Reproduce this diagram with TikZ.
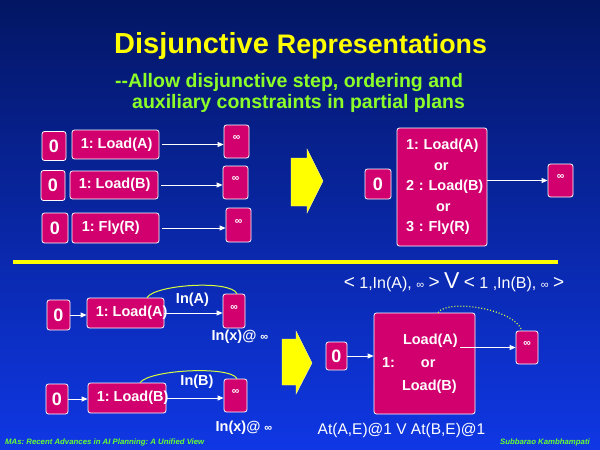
\documentclass[tikz,border=0pt]{standalone}
\usepackage{fontspec}
\setmainfont{Liberation Sans}
\usetikzlibrary{arrows.meta}
\definecolor{mag}{RGB}{210,0,110}
\definecolor{bgtop}{RGB}{3,22,100}
\definecolor{bgbot}{RGB}{15,55,228}
\definecolor{ttl}{RGB}{255,255,0}
\definecolor{subc}{RGB}{140,255,40}
\definecolor{footc}{RGB}{102,255,51}
\definecolor{crv}{RGB}{215,255,60}
\definecolor{blkedge}{RGB}{255,255,170}
\newcommand\fsz[1]{\fontsize{#1}{#1}\selectfont}
\begin{document}
\frenchspacing
\begin{tikzpicture}[x=1pt,y=-1pt,
  bx/.style={draw=white, line width=0.8pt, fill=mag, rounded corners=2.5pt, inner sep=0pt, text=white, font=\bfseries\fsz{14.5}},
  zero/.style={bx, font=\bfseries\fsz{18}},
  inf/.style={bx, font=\bfseries\fsz{10.5}, text height=5pt, text depth=7pt},
  arr/.style={white, line width=0.8pt, -{Triangle[length=6pt,width=5pt]}},
  lbl/.style={text=white, font=\bfseries\fsz{14.5}, inner sep=0pt},
  st/.style={text=white, font=\bfseries\fsz{14.5}, inner sep=0pt, anchor=west},
  blk/.style={fill=ttl, draw=blkedge, line width=0.4pt},
  curve/.style={crv, line width=1pt},
  foot/.style={inner sep=0pt, text=footc, font=\bfseries\itshape\fsz{7.8}},
]
\shade[top color=bgtop, bottom color=bgbot] (0,0) rectangle (600,450);
\useasboundingbox (0,0) rectangle (600,450);

% title
\node[anchor=base west, inner sep=0pt, text=ttl, font=\bfseries] (title) at (114,53) {\fsz{29}Disjunctive \fsz{26.8}Representations};
\node[anchor=base west, inner sep=0pt, text=subc, font=\bfseries\fsz{19.5}] (sub1) at (115,87) {-{}-Allow disjunctive step, ordering and};
\node[anchor=base west, inner sep=0pt, text=subc, font=\bfseries\fsz{19.5}] (sub2) at (132,108) {auxiliary constraints in partial plans};

% top left rows
\node[zero, minimum width=24pt, minimum height=29pt] (z1) at (54,146) {0};
\node[bx, minimum width=87pt, minimum height=29pt, label={[st,xshift=9pt]west:{1: Load(A)}}] (s1) at (115.5,144.5) {};
\node[inf, minimum width=25pt, minimum height=33pt] (i1) at (236.5,141.5) {∞};
\draw[arr, shorten <=3pt] (s1.east) -- (s1.east -| i1.west);

\node[zero, minimum width=24pt, minimum height=30pt] (z2) at (53,185.5) {0};
\node[bx, minimum width=88pt, minimum height=28pt, label={[st,xshift=9pt]west:{1: Load(B)}}] (s2) at (114,185) {};
\node[inf, minimum width=25pt, minimum height=33pt] (i2) at (235.5,182.5) {∞};
\draw[arr, shorten <=3pt] (s2.east) -- (s2.east -| i2.west);

\node[zero, minimum width=26pt, minimum height=30pt] (z3) at (55,228) {0};
\node[bx, minimum width=87pt, minimum height=30pt, label={[st,xshift=10pt]west:{1: Fly(R)}}] (s3) at (115.5,228) {};
\node[inf, minimum width=25pt, minimum height=34pt] (i3) at (238.5,225) {∞};
\draw[arr, shorten <=3pt] (s3.east) -- (s3.east -| i3.west);

% block arrow 1
\filldraw[blk] (291,158) -- (307,158) -- (307,149) -- (323,181) -- (307,213) -- (307,206) -- (291,206) -- cycle;

% top right
\node[zero, minimum width=26pt, minimum height=30pt] (z4) at (378,184) {0};
\node[bx, minimum width=90pt, minimum height=118pt, text width=80pt, align=left, font=\bfseries\fontsize{14.5}{20.5}\selectfont] (big) at (442,187) {\mbox{\hspace*{4pt}1: Load(A)}\\\hspace*{32pt}or\\\mbox{\hspace*{4pt}2 : Load(B)}\\\hspace*{34pt}or\\\mbox{\hspace*{4pt}3 : Fly(R)}};
\node[inf, minimum width=25pt, minimum height=33pt] (i4) at (560.5,180.5) {∞};
\draw[arr] (i4.west -| big.east) -- (i4.west);

% separator
\draw[ttl, line width=4pt] (13,262) -- (558,262);

% bottom left
\node[zero, minimum width=23pt, minimum height=30pt] (zA) at (58.5,315) {0};
\node[bx, minimum width=77pt, minimum height=30pt, label={[st,xshift=9pt]west:{1: Load(A)}}] (sA) at (125.5,313) {};
\node[inf, minimum width=22pt, minimum height=34pt] (iA) at (234,311) {∞};
\draw[arr] (zA.east) -- (zA.east -| sA.west);
\draw[arr] (sA.east) -- (sA.east -| iA.west);
\draw[curve] ([xshift=21.5pt]sA.north) .. controls +(8,-13) and +(-7,-14) .. ([xshift=3pt]iA.north);
\node[lbl] (lA) at (192.5,300) {In(A)};
\node[lbl] (xA) at (240,337) {In(x)@ {\fsz{11}∞}};

\node[zero, minimum width=22pt, minimum height=30pt] (zB) at (57,399) {0};
\node[bx, minimum width=78pt, minimum height=30pt, label={[st,xshift=9pt]west:{1: Load(B)}}] (sB) at (127,398) {};
\node[inf, minimum width=23pt, minimum height=33pt] (iB) at (235.5,395.5) {∞};
\draw[arr] (zB.east) -- (zB.east -| sB.west);
\draw[arr] (sB.east) -- (sB.east -| iB.west);
\draw[curve] ([xshift=13pt]sB.north) .. controls +(10,-13) and +(-7,-13) .. ([xshift=1.5pt]iB.north);
\node[lbl] (lB) at (197,382) {In(B)};
\node[lbl] (xB) at (244,428) {In(x)@ {\fsz{11}∞}};

% block arrow 2
\filldraw[blk] (282,339) -- (296,339) -- (296,331) -- (312,363) -- (296,394) -- (296,385) -- (282,385) -- cycle;

% bottom right
\node[text=white, font=\fsz{16}, inner sep=0pt] (dis) at (454,282) {{\fsz{19}<} 1,In(A), {\fsz{11}∞} {\fsz{19}>} {\fsz{23}V} {\fsz{19}<} 1 ,In(B), {\fsz{11}∞} {\fsz{19}>}};
\node[zero, minimum width=21pt, minimum height=28pt] (zC) at (336.5,356) {0};
\node[bx, minimum width=101pt, minimum height=101pt, text width=85pt, align=left, font=\bfseries\fontsize{14.5}{23}\selectfont] (bigC) at (424.5,363.5) {\hspace*{21pt}Load(A)\\\makebox[39pt][l]{1:}or\\\hspace*{20pt}Load(B)};
\node[inf, minimum width=22pt, minimum height=33pt] (iC) at (527,347.5) {∞};
\coordinate (cs) at ([xshift=-15pt]bigC.east);
\draw[arr] (zC.east) -- (zC.east -| bigC.west);
\draw[arr] (cs |- iC.west) -- (iC.west);
\draw[curve, dotted, line width=1.2pt] ([xshift=13.5pt]bigC.north) .. controls +(10,-14) and +(-8,-22) .. ([xshift=-5pt]iC.north);
\node[text=white, font=\fsz{15.5}, inner sep=0pt] (atx) at (401.5,430) {At(A,E)@1 V At(B,E)@1};

% footers
\node[foot, anchor=west] (f1) at (5,442) {MAs: Recent Advances in AI Planning: A Unified View};
\node[foot, anchor=east] (f2) at (590,442) {Subbarao Kambhampati};
\end{tikzpicture}
\end{document}
